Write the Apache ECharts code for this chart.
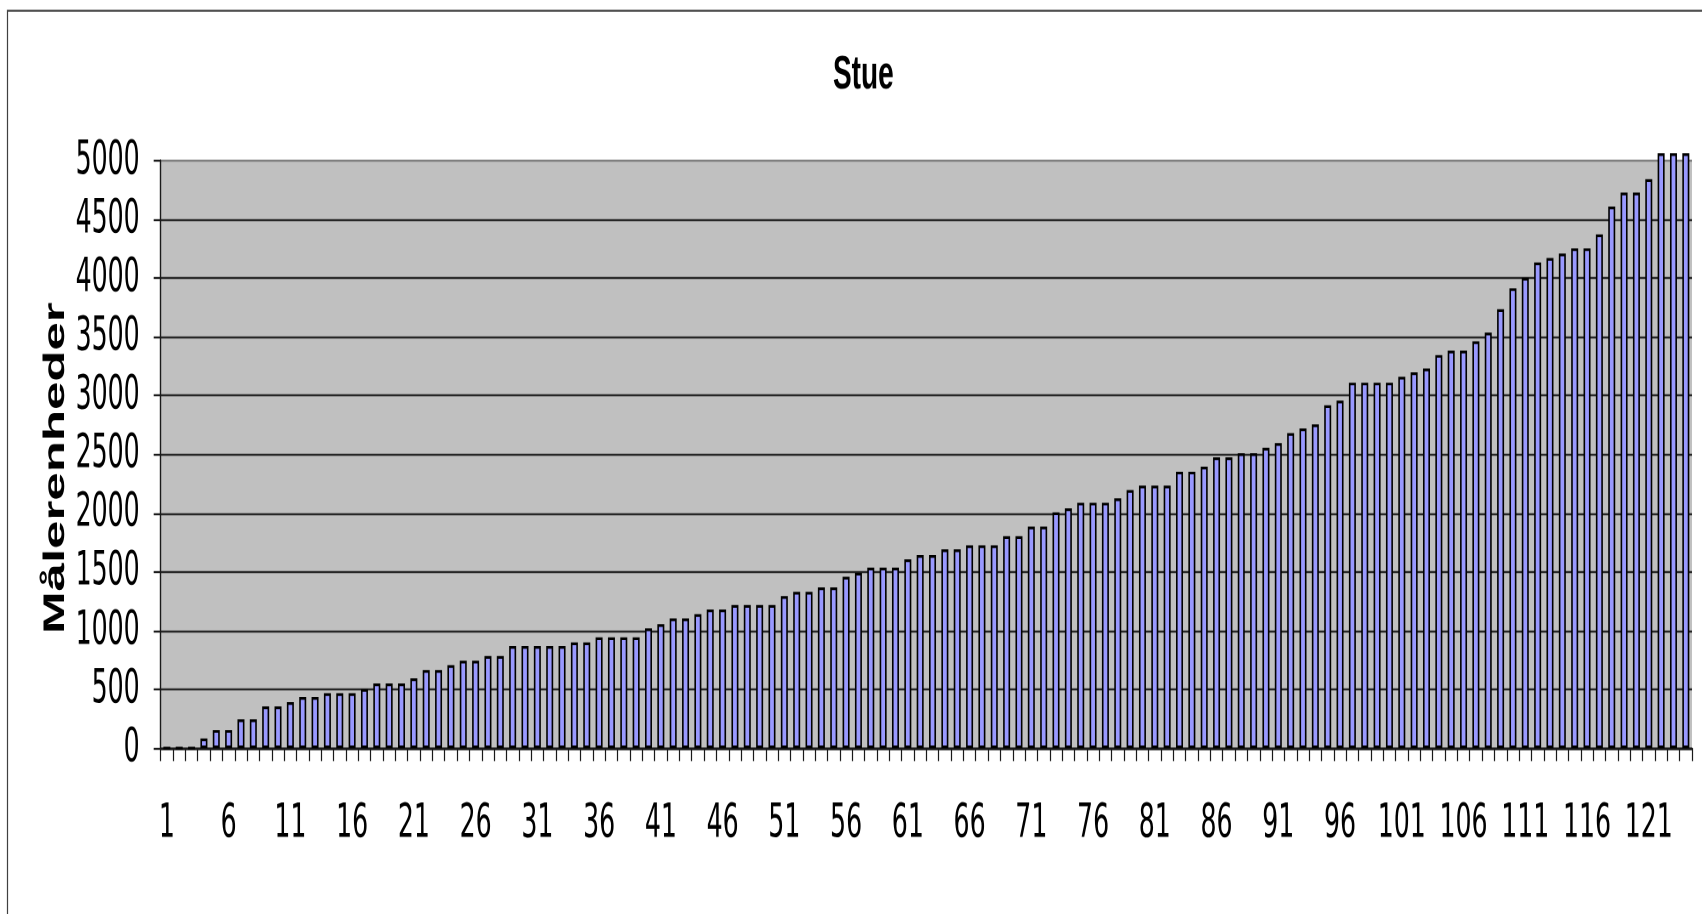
<!DOCTYPE html>
<html>
<head>
<meta charset="utf-8">
<script src="https://cdn.jsdelivr.net/npm/echarts@6/dist/echarts.min.js"></script>
<style>
  html, body { margin: 0; padding: 0; background: #ffffff; overflow: hidden; }
  #wrap { width: 1702px; height: 914px; overflow: hidden; position: relative; }
  #chart { width: 1702px; height: 538px; transform: scaleY(1.7); transform-origin: 0 0; }
</style>
</head>
<body>
<div id="wrap"><div id="chart"></div></div>
<script>
// ---- data ----
const chartTitle = 'Stue';
const yAxisTitle = 'Målerenheder';
const categories = ['1','2','3','4','5','6','7','8','9','10','11','12','13','14','15','16','17','18','19','20',
  '21','22','23','24','25','26','27','28','29','30','31','32','33','34','35','36','37','38','39','40',
  '41','42','43','44','45','46','47','48','49','50','51','52','53','54','55','56','57','58','59','60',
  '61','62','63','64','65','66','67','68','69','70','71','72','73','74','75','76','77','78','79','80',
  '81','82','83','84','85','86','87','88','89','90','91','92','93','94','95','96','97','98','99','100',
  '101','102','103','104','105','106','107','108','109','110','111','112','113','114','115','116','117','118','119','120',
  '121','122','123','124'];
const values = [0, 0, 0, 83, 154, 154, 245, 245, 355, 355,
  392, 435, 435, 468, 468, 468, 503, 551, 551, 551,
  594, 665, 665, 707, 744, 744, 784, 784, 869, 869,
  869, 869, 869, 900, 900, 943, 943, 943, 943, 1020,
  1056, 1105, 1105, 1141, 1181, 1181, 1218, 1218, 1218, 1218,
  1295, 1331, 1331, 1369, 1369, 1459, 1493, 1536, 1536, 1536,
  1607, 1644, 1644, 1692, 1692, 1727, 1727, 1727, 1805, 1805,
  1885, 1885, 2007, 2041, 2089, 2089, 2089, 2126, 2197, 2234,
  2234, 2234, 2353, 2353, 2395, 2475, 2475, 2509, 2509, 2557,
  2597, 2682, 2721, 2756, 2919, 2958, 3111, 3111, 3111, 3111,
  3160, 3198, 3231, 3346, 3383, 3383, 3463, 3537, 3736, 3914,
  4003, 4133, 4171, 4209, 4254, 4254, 4373, 4609, 4728, 4728,
  4842, 5063, 5063, 5063];
const yTicks = [0, 500, 1000, 1500, 2000, 2500, 3000, 3500, 4000, 4500, 5000];

// ---- chart ----
const narrow = '"Liberation Sans Narrow", "Arial Narrow", "DejaVu Sans Condensed", sans-serif';
const regular = '"Liberation Sans", Arial, sans-serif';
const chart = echarts.init(document.getElementById('chart'), null, { renderer: 'canvas', devicePixelRatio: 2 });

const splitColors = yTicks.map((t, i) => (i === yTicks.length - 1 ? '#7f7f7f' : '#262626'));

chart.setOption({
  animation: false,
  backgroundColor: '#ffffff',
  title: {
    text: chartTitle,
    left: 828,
    top: 25.5,
    textStyle: { fontFamily: regular, fontWeight: 'bold', fontSize: 28, color: '#000', lineHeight: 28 }
  },
  graphic: [{
    type: 'rect', silent: true, z: 100,
    shape: { x: 7.5, y: 6.3, width: 1800, height: 700 },
    style: { fill: 'none', stroke: '#404040', lineWidth: 1.2 }
  }],
  grid: {
    left: 160.7, right: 10, top: 94.5, bottom: 97.9,
    show: true, backgroundColor: '#c0c0c0', borderWidth: 0
  },
  xAxis: {
    type: 'category',
    data: categories,
    boundaryGap: true,
    axisLine: { show: true, onZero: true, lineStyle: { color: '#1a1a1a', width: 1.4 } },
    axisTick: { show: true, interval: 0, length: 7.6, lineStyle: { color: '#1a1a1a', width: 1.2 } },
    axisLabel: {
      interval: 4, margin: 30.5, color: '#000',
      fontFamily: narrow, fontSize: 28, lineHeight: 28
    },
    splitLine: { show: false }
  },
  yAxis: {
    type: 'value',
    min: yTicks[0],
    max: yTicks[yTicks.length - 1],
    interval: yTicks[1] - yTicks[0],
    name: yAxisTitle,
    nameLocation: 'middle',
    nameRotate: 90,
    nameGap: 90,
    nameMoveOverlap: false,
    nameTextStyle: { fontFamily: regular, fontWeight: 'bold', fontSize: 30, color: '#000', padding: [0, 16, 0, 0] },
    axisLine: { show: true, lineStyle: { color: '#1a1a1a', width: 1.4 } },
    axisTick: { show: true, inside: false, length: 7, lineStyle: { color: '#1a1a1a', width: 1.2 } },
    axisLabel: {
      margin: 21, color: '#000',
      fontFamily: narrow, fontSize: 28, lineHeight: 20,
      padding: [0, 0, 8, 0],
      hideOverlap: false,
      showMinLabel: true, showMaxLabel: true,
      formatter: function (v) { return String(v); }
    },
    splitLine: { show: true, lineStyle: { color: splitColors, width: 1.3 } }
  },
  series: [{
    type: 'bar',
    data: values,
    barWidth: 7,
    clip: false,
    itemStyle: { color: '#9999ff', borderColor: '#000000', borderWidth: 1.6 },
    emphasis: { disabled: true }
  }]
});
</script>
</body>
</html>
